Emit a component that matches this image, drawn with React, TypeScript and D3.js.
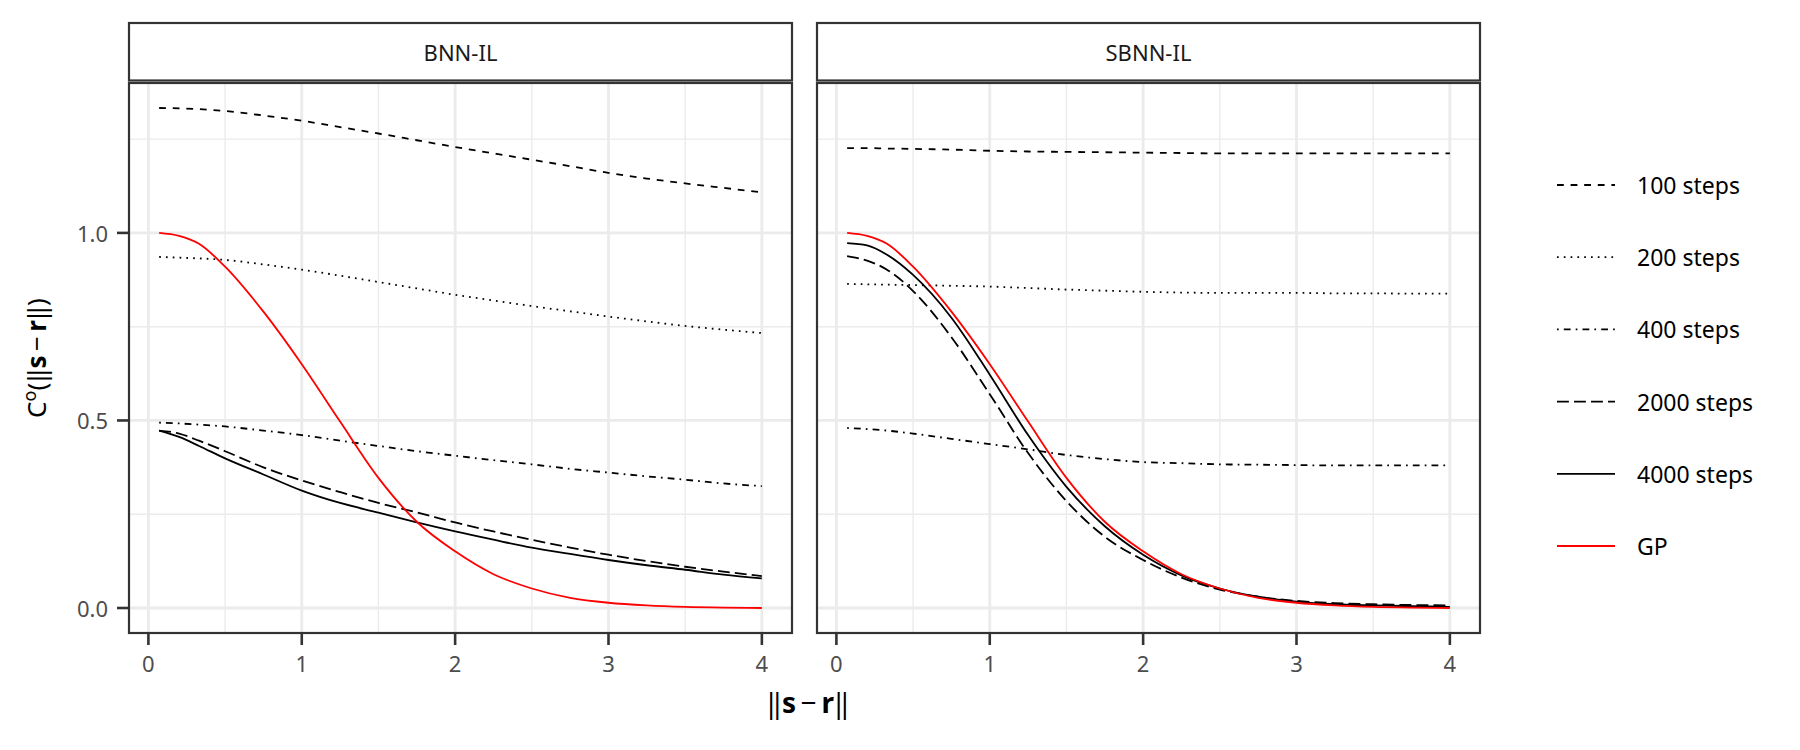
import * as d3 from 'd3'

// distances where the correlation was evaluated
const distance = [0.07, 0.2, 0.33, 0.5, 0.75, 1, 1.25, 1.5, 1.75, 2, 2.25, 2.5, 2.75, 3, 3.25, 3.5, 3.75, 4]

const panelNames = ['BNN-IL', 'SBNN-IL']
const seriesNames = ['100 steps', '200 steps', '400 steps', '2000 steps', '4000 steps', 'GP']

// BNN-IL
const bnn100 = [1.333, 1.332, 1.33, 1.325, 1.313, 1.299, 1.282, 1.265, 1.247, 1.229, 1.212, 1.195, 1.178, 1.16, 1.145, 1.132, 1.12, 1.108]
const bnn200 = [0.936, 0.934, 0.932, 0.928, 0.916, 0.902, 0.886, 0.869, 0.852, 0.835, 0.82, 0.805, 0.791, 0.777, 0.764, 0.752, 0.742, 0.733]
const bnn400 = [0.494, 0.492, 0.489, 0.484, 0.473, 0.461, 0.446, 0.432, 0.418, 0.406, 0.394, 0.383, 0.371, 0.361, 0.351, 0.342, 0.332, 0.325]
const bnn2000 = [0.473, 0.465, 0.446, 0.418, 0.375, 0.34, 0.309, 0.28, 0.255, 0.228, 0.204, 0.182, 0.161, 0.142, 0.125, 0.11, 0.097, 0.085]
const bnn4000 = [0.473, 0.456, 0.432, 0.399, 0.356, 0.313, 0.28, 0.254, 0.228, 0.204, 0.182, 0.161, 0.144, 0.128, 0.114, 0.102, 0.089, 0.079]

// SBNN-IL
const sbnn100 = [1.226, 1.226, 1.225, 1.224, 1.222, 1.219, 1.217, 1.216, 1.215, 1.214, 1.213, 1.212, 1.212, 1.212, 1.212, 1.212, 1.212, 1.212]
const sbnn200 = [0.864, 0.863, 0.862, 0.861, 0.859, 0.857, 0.853, 0.849, 0.846, 0.843, 0.841, 0.84, 0.84, 0.84, 0.839, 0.839, 0.838, 0.838]
const sbnn400 = [0.48, 0.477, 0.473, 0.465, 0.451, 0.437, 0.423, 0.408, 0.397, 0.389, 0.386, 0.383, 0.382, 0.381, 0.38, 0.38, 0.38, 0.38]
const sbnn2000 = [0.938, 0.926, 0.902, 0.845, 0.722, 0.57, 0.413, 0.285, 0.19, 0.128, 0.081, 0.049, 0.03, 0.019, 0.013, 0.01, 0.008, 0.007]
const sbnn4000 = [0.973, 0.967, 0.942, 0.888, 0.774, 0.622, 0.461, 0.323, 0.218, 0.142, 0.087, 0.052, 0.03, 0.017, 0.01, 0.007, 0.005, 0.003]

// target GP correlation, same in both panels
const gp = [1.0, 0.992, 0.971, 0.91, 0.79, 0.65, 0.497, 0.347, 0.23, 0.151, 0.09, 0.052, 0.027, 0.014, 0.007, 0.003, 0.001, 0.0]

const xTicks = [0, 1, 2, 3, 4]
const xMinor = [0.5, 1.5, 2.5, 3.5]
const yTicks = [0, 0.5, 1.0]
const yMinor = [0.25, 0.75, 1.25]

const panelData = [
  [bnn100, bnn200, bnn400, bnn2000, bnn4000, gp],
  [sbnn100, sbnn200, sbnn400, sbnn2000, sbnn4000, gp],
]

const lw = 1.8
const u = 1.7
const dashes = [`${4 * u} ${4 * u}`, `${u} ${3 * u}`, `${u} ${3 * u} ${4 * u} ${3 * u}`, `${7 * u} ${3 * u}`, 'none', 'none']
const colors = ['#000', '#000', '#000', '#000', '#000', '#ff0000']

const font = '"Noto Sans", "Open Sans", sans-serif'

// ||s − r|| with bold s and r
const norm = (
  <>
    {'\u2016'}<tspan fontWeight="bold">s</tspan>{'\u2009\u2212\u2009'}<tspan fontWeight="bold">r</tspan>{'\u2016'}
  </>
)

export default function App() {
  const panelLeft = [129, 817]
  const panelW = 663
  const top = 83
  const bottom = 633
  const stripTop = 23
  const stripBottom = 80.5

  const allY = panelData.flat(2)
  const xExt = d3.extent(distance) as [number, number]
  const yExt = [0, d3.max(allY)!]
  const xPad = (xExt[1] - xExt[0]) * 0.05
  const yPad = (yExt[1] - yExt[0]) * 0.05

  const y = d3.scaleLinear().domain([yExt[0] - yPad, yExt[1] + yPad]).range([bottom, top])

  return (
    <svg width={1800} height={750} style={{ position: 'absolute', left: 0, top: 0, background: '#fff' }} fontFamily={font}>
      {panelNames.map((name, p) => {
        const x = d3.scaleLinear()
          .domain([xExt[0] - xPad, xExt[1] + xPad])
          .range([panelLeft[p], panelLeft[p] + panelW])
        const line = d3.line<number>()
          .x((_, i) => x(distance[i]))
          .y(v => y(v))
          .curve(d3.curveMonotoneX)
        const x0 = panelLeft[p]
        const x1 = panelLeft[p] + panelW
        return (
          <g key={name}>
            <rect x={x0} y={top} width={panelW} height={bottom - top} fill="#fff" />
            {yMinor.map(t => (
              <line key={'ym' + t} x1={x0} x2={x1} y1={y(t)} y2={y(t)} stroke="#ebebeb" strokeWidth={1.4} />
            ))}
            {xMinor.map(t => (
              <line key={'xm' + t} x1={x(t)} x2={x(t)} y1={top} y2={bottom} stroke="#ebebeb" strokeWidth={1.4} />
            ))}
            {yTicks.map(t => (
              <line key={'yM' + t} x1={x0} x2={x1} y1={y(t)} y2={y(t)} stroke="#ebebeb" strokeWidth={2.8} />
            ))}
            {xTicks.map(t => (
              <line key={'xM' + t} x1={x(t)} x2={x(t)} y1={top} y2={bottom} stroke="#ebebeb" strokeWidth={2.8} />
            ))}
            {panelData[p].map((vals, s) => (
              <path key={s} d={line(vals) ?? ''} fill="none" stroke={colors[s]} strokeWidth={lw}
                strokeDasharray={dashes[s]} />
            ))}
            <rect x={x0} y={top} width={panelW} height={bottom - top} fill="none" stroke="#333" strokeWidth={2.2} />
            <rect x={x0} y={stripTop} width={panelW} height={stripBottom - stripTop} fill="#fff" stroke="#333" strokeWidth={2.2} />
            <text x={(x0 + x1) / 2} y={(stripTop + stripBottom) / 2} textAnchor="middle" dominantBaseline="central"
              fontSize={22} fill="#1a1a1a">{name}</text>
            {xTicks.map(t => (
              <g key={'xt' + t}>
                <line x1={x(t)} x2={x(t)} y1={bottom} y2={bottom + 12} stroke="#333" strokeWidth={2.6} />
                <text x={x(t)} y={bottom + 39} textAnchor="middle" fontSize={22} fill="#4d4d4d">{t}</text>
              </g>
            ))}
            {p === 0 && yTicks.map(t => (
              <g key={'yt' + t}>
                <line x1={x0 - 12} x2={x0} y1={y(t)} y2={y(t)} stroke="#333" strokeWidth={2.6} />
                <text x={x0 - 21} y={y(t)} textAnchor="end" dominantBaseline="central" fontSize={22} fill="#4d4d4d">
                  {t.toFixed(1)}
                </text>
              </g>
            ))}
          </g>
        )
      })}

      {/* axis titles */}
      <text x={808} y={713} textAnchor="middle" fontSize={28} fill="#000">{norm}</text>
      <text transform="translate(46,358) rotate(-90)" textAnchor="middle" fontSize={26} fill="#000">
        C<tspan fontSize={18} dy={-10}>o</tspan><tspan dy={10}>(</tspan>{norm})
      </text>

      {/* legend */}
      {seriesNames.map((s, i) => {
        const ly = 185 + i * 72.2
        return (
          <g key={s}>
            <line x1={1557} x2={1615} y1={ly} y2={ly} stroke={colors[i]} strokeWidth={lw} strokeDasharray={dashes[i]} />
            <text x={1637} y={ly} dominantBaseline="central" fontSize={23} fill="#000">{s}</text>
          </g>
        )
      })}
    </svg>
  )
}
